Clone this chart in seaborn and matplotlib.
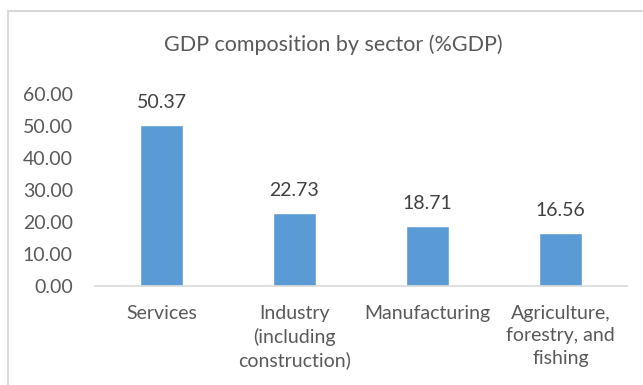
import matplotlib
matplotlib.use("Agg")
import matplotlib.pyplot as plt
import seaborn as sns
import pandas as pd
from matplotlib.patches import Rectangle

categories = ["Services", "Industry\n(including\nconstruction)", "Manufacturing",
              "Agriculture,\nforestry, and\nfishing"]
values = [50.37, 22.73, 18.71, 16.56]
yticks = [0, 10, 20, 30, 40, 50, 60]

sns.set_theme(style="white")
plt.rcParams['font.family'] = ['Lato', 'DejaVu Sans']

W, H = 643, 385
fig = plt.figure(figsize=(W/100, H/100), dpi=100)
ax = fig.add_axes([95/W, 1-286/H, (627-95)/W, (286-94)/H])

df = pd.DataFrame({"sector": categories, "value": values})
sns.barplot(data=df, x="sector", y="value", color="#5B9BD5", saturation=1,
            width=0.316, ax=ax)

ax.set_ylim(0, 60)
ax.set_yticks(yticks)
ax.set_yticklabels([f"{v:.2f}" for v in yticks])
ax.set_xlabel("")
ax.set_ylabel("")
txtc = "#595959"
ax.tick_params(axis="y", length=0, pad=16, labelsize=14, labelcolor=txtc)
ax.tick_params(axis="x", length=0, pad=14, labelsize=14, labelcolor=txtc)
for lab in ax.get_xticklabels():
    lab.set_linespacing(1.36)
for s in ["top", "right", "left"]:
    ax.spines[s].set_visible(False)
ax.spines["bottom"].set_color("#D9D9D9")
ax.spines["bottom"].set_linewidth(1.2)
ax.grid(False)

for c in ax.containers:
    ax.bar_label(c, labels=[f"{v:.2f}" for v in values], padding=10,
                 fontsize=14, color="#404040")

fig.text(333/W, 1-45/H, "GDP composition by sector (%GDP)", ha="center",
         va="center", fontsize=15.5, color=txtc)

fig.patches.append(Rectangle((8/W, -0.1), 1.2, 1-11/H+0.1, transform=fig.transFigure,
                             fill=False, edgecolor="#D9D9D9", linewidth=1.5))

fig.savefig("out.png", dpi=100)
